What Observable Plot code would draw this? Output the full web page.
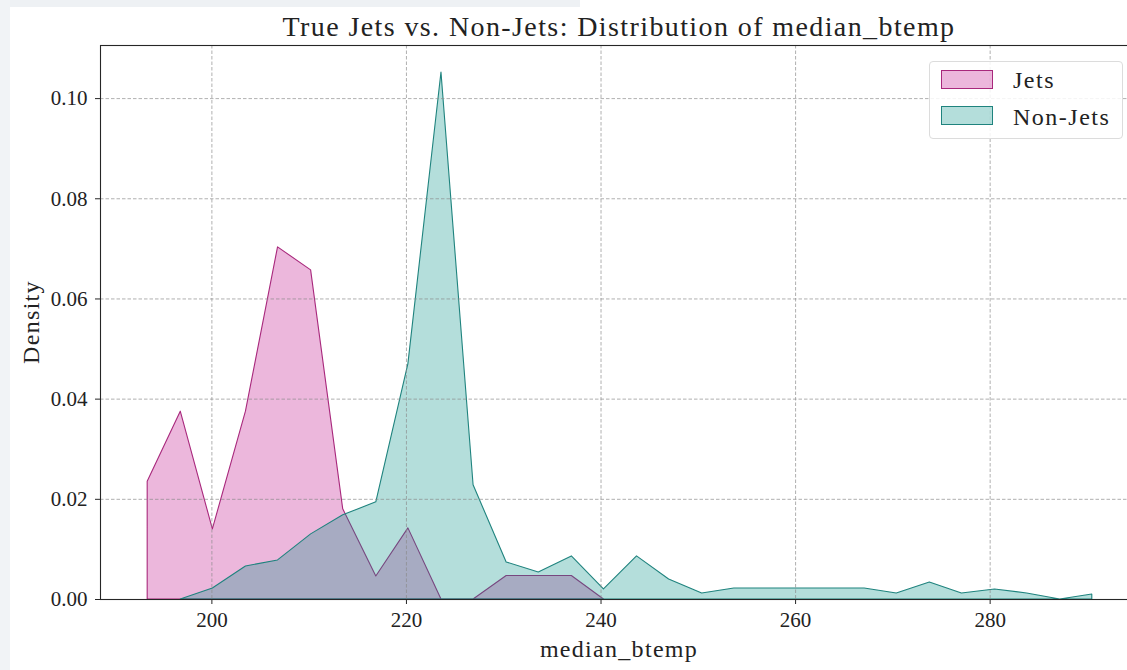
<!DOCTYPE html>
<html>
<head>
<meta charset="utf-8">
<script src="https://cdn.jsdelivr.net/npm/d3@7"></script>
<script src="https://cdn.jsdelivr.net/npm/@observablehq/plot@0.6"></script>
<style>
  html, body { margin: 0; padding: 0; background: #fff; overflow: hidden; }
  #wrap { position: relative; width: 1127px; height: 670px; overflow: hidden; background: #fff;
          font-family: "Liberation Serif", "Times New Roman", serif; color: #222; }
  #title { position: absolute; left: 0; top: 13px; width: 1238px; text-align: center;
           font-size: 28px; line-height: 28px; letter-spacing: 1.4px; white-space: nowrap; }
  #chart { position: absolute; left: 0; top: 40px; width: 1140px; }
  #chart svg { max-width: none !important; }
  #xlabel { position: absolute; left: 0; top: 637px; width: 1238px; text-align: center;
            font-size: 24px; line-height: 24px; letter-spacing: 1.3px; white-space: nowrap; }
  #ylabel { position: absolute; left: 31px; top: 322px; transform: translate(-50%, -50%) rotate(-90deg);
            font-size: 24px; line-height: 24px; letter-spacing: 1.3px; white-space: nowrap; }
  #legend { position: absolute; left: 929px; top: 61px; width: 192px; height: 76px;
            border: 1px solid #dcdcdc; border-radius: 4px; background: rgba(255,255,255,0.85); }
  .sw { position: absolute; left: 11px; width: 50px; height: 17px; }
  .lt { position: absolute; left: 83px; font-size: 24px; line-height: 24px; letter-spacing: 1.5px; white-space: nowrap; }
  #bandTop { position: absolute; left: 0; top: 0; width: 580px; height: 7px; background: #eef1f4; }
  #bandLeft { position: absolute; left: 0; top: 0; width: 10px; height: 670px; background: #f1f3f6; }
</style>
</head>
<body>
<div id="wrap">
  <div id="bandTop"></div>
  <div id="bandLeft"></div>
  <div id="title">True Jets vs. Non-Jets: Distribution of median_btemp</div>
  <div id="chart"></div>
  <div id="xlabel">median_btemp</div>
  <div id="ylabel">Density</div>
  <div id="legend"></div>
</div>
<script>
// ---- data ----
const seriesNames = ["Jets", "Non-Jets"];
const seriesColors = ["#c0128a", "#079188"];
const seriesStrokes = ["#a8287c", "#1f837e"];

const jetsX = [193.4, 196.8, 200.1, 203.5, 206.8, 210.2, 213.5, 216.9, 220.2, 223.6, 226.9, 230.3, 233.6, 237.0, 240.3];
const jetsY = [0.0235, 0.0375, 0.0140, 0.0375, 0.0703, 0.0657, 0.0180, 0.0046, 0.0142, 0.0, 0.0, 0.0047, 0.0047, 0.0047, 0.0];

const nonJetsX = [196.8, 200.1, 203.5, 206.8, 210.2, 213.5, 216.9, 220.2, 223.6, 226.9, 230.3, 233.6, 237.0, 240.3,
                  243.7, 247.0, 250.4, 253.7, 257.1, 260.4, 263.8, 267.1, 270.4, 273.8, 277.1, 280.5, 283.8, 287.2, 290.5];
const nonJetsY = [0.0, 0.0022, 0.0066, 0.0078, 0.0130, 0.0168, 0.0194, 0.0470, 0.1052, 0.0228, 0.0074, 0.0054, 0.0086, 0.0020,
                  0.0086, 0.0040, 0.0012, 0.0022, 0.0022, 0.0022, 0.0022, 0.0022, 0.0012, 0.0034, 0.0012, 0.0020, 0.0012, 0.0, 0.0010];

const xTicks = [200, 220, 240, 260, 280];
const yTicks = [0.00, 0.02, 0.04, 0.06, 0.08, 0.10];

// ---- build tables ----
const jets = jetsX.map((x, i) => ({x, y: jetsY[i]}));
const nonJets = nonJetsX.map((x, i) => ({x, y: nonJetsY[i]}));

const chart = Plot.plot({
  width: 1140,
  height: 630,
  marginLeft: 100,
  marginRight: 2,
  marginTop: 5,
  marginBottom: 71,
  style: {fontFamily: "'Liberation Serif', 'Times New Roman', serif", fontSize: "21px", color: "#222", background: "transparent", overflow: "visible", maxWidth: "none"},
  x: {domain: [188.55, 295.25]},
  y: {domain: [0, 0.1106]},
  marks: [
    Plot.areaY(jets, {x: "x", y: "y", fill: seriesColors[0], fillOpacity: 0.3, stroke: seriesStrokes[0], strokeWidth: 1.1, curve: "linear"}),
    Plot.areaY(nonJets, {x: "x", y: "y", fill: seriesColors[1], fillOpacity: 0.3, stroke: seriesStrokes[1], strokeWidth: 1.1, curve: "linear"}),
    Plot.gridX(xTicks, {stroke: "#8a8a8a", strokeOpacity: 0.85, strokeWidth: 0.8, strokeDasharray: "3.5,2"}),
    Plot.gridY(yTicks, {stroke: "#8a8a8a", strokeOpacity: 0.85, strokeWidth: 0.8, strokeDasharray: "3.5,2"}),
    Plot.frame({stroke: "#262626", strokeWidth: 1.1}),
    Plot.axisX(xTicks, {tickSize: 5, tickPadding: 8, label: null, stroke: "#262626", fill: "#222"}),
    Plot.axisY(yTicks, {tickSize: 5, tickPadding: 8, label: null, tickFormat: d3.format(".2f"), stroke: "#262626", fill: "#222"})
  ]
});
chart.style.maxWidth = "none";
document.getElementById("chart").appendChild(chart);

// ---- legend ----
const legend = document.getElementById("legend");
seriesNames.forEach((name, i) => {
  const sw = document.createElement("div");
  sw.className = "sw";
  sw.style.top = (i === 0 ? 8 : 44) + "px";
  const c = d3.color(seriesColors[i]); c.opacity = 0.3;
  sw.style.background = c.formatRgb();
  sw.style.border = "1.2px solid " + seriesStrokes[i];
  legend.appendChild(sw);
  const t = document.createElement("div");
  t.className = "lt";
  t.style.top = (i === 0 ? 6 : 43) + "px";
  t.textContent = name;
  legend.appendChild(t);
});
</script>
</body>
</html>
